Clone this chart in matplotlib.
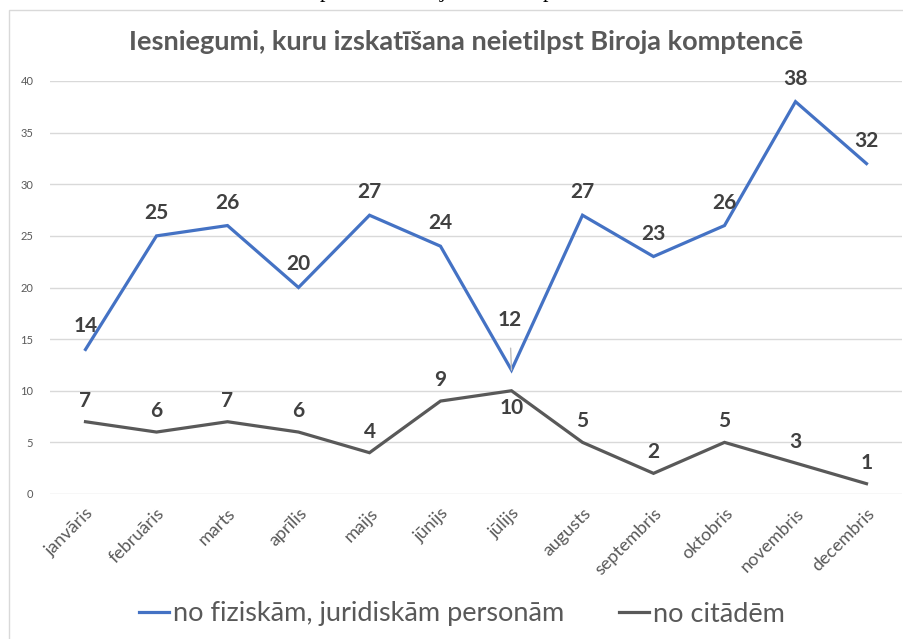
import matplotlib
matplotlib.use('Agg')
import matplotlib.pyplot as plt
from matplotlib.patches import Rectangle

months = ['janvāris', 'februāris', 'marts', 'aprīlis', 'maijs', 'jūnijs',
          'jūlijs', 'augusts', 'septembris', 'oktobris', 'novembris', 'decembris']
personas = [14, 25, 26, 20, 27, 24, 12, 27, 23, 26, 38, 32]
citadi = [7, 6, 7, 6, 4, 9, 10, 5, 2, 5, 3, 1]

BLUE = '#4472C4'
GRAY = '#595959'
LABEL = '#404040'

plt.rcParams['font.family'] = ['Lato', 'DejaVu Sans']

fig = plt.figure(figsize=(9.04, 6.39), dpi=100)
W, H = 904, 639

# chart frame (runs off the right/bottom edge like the screenshot)
fig.patches.append(Rectangle((9 / W, -0.1), 1.0, 1 - 10 / H + 0.1,
                             transform=fig.transFigure, fill=False,
                             edgecolor='#D9D9D9', lw=1))

# cut-off line of page text above the chart
for x, ch in [(325, 'p'), (443, 'j'), (548, 'p')]:
    fig.text(x / W, 1 + 3 / H, ch, family='Liberation Serif', fontsize=16,
             ha='center', va='baseline', color='black')

ax = fig.add_axes([50 / W, 1 - 494 / H, 852 / W, 413 / H])
x = list(range(len(months)))
ax.plot(x, personas, color=BLUE, lw=2.3, solid_joinstyle='miter', zorder=3)
ax.plot(x, citadi, color=GRAY, lw=2.3, solid_joinstyle='miter', zorder=3)

ax.set_xlim(-0.5, len(months) - 0.5)
ax.set_ylim(0, 40)
ax.set_yticks(range(0, 41, 5))
ax.grid(axis='y', color='#D9D9D9', lw=1)
ax.set_axisbelow(True)
for s in ax.spines.values():
    s.set_visible(False)
ax.tick_params(axis='y', length=0, labelsize=8, labelcolor=GRAY, pad=12)
ax.tick_params(axis='x', length=0, labelsize=13, labelcolor=GRAY, pad=8)
ax.set_xticks(x)
ax.set_xticklabels(months, rotation=45, ha='right', rotation_mode='anchor')

for i, v in enumerate(personas):
    if i == 6:
        ax.annotate(str(v), (i, v), xytext=(-2, 50), textcoords='offset pixels',
                    ha='center', va='center', fontsize=15, fontweight='bold',
                    color=LABEL,
                    arrowprops=dict(arrowstyle='-', color='#BFBFBF', lw=1,
                                    shrinkA=11, shrinkB=0))
    else:
        ax.annotate(str(v), (i, v), xytext=(0, 23), textcoords='offset pixels',
                    ha='center', va='center', fontsize=15, fontweight='bold',
                    color=LABEL)

for i, v in enumerate(citadi):
    dy = -17 if i == 6 else 21
    ax.annotate(str(v), (i, v), xytext=(0, dy), textcoords='offset pixels',
                ha='center', va='center', fontsize=15, fontweight='bold',
                color=LABEL)

fig.text(466 / W, 1 - 42 / H, 'Iesniegumi, kuru izskatīšana neietilpst Biroja komptencē',
         ha='center', va='center', fontsize=19.5, fontweight='bold', color=GRAY)

leg = fig.legend(['no fiziskām, juridiskām personām', 'no citādēm'],
                 loc='center', bbox_to_anchor=(462 / W, 1 - 614 / H), ncol=2,
                 frameon=False, fontsize=19.5, handlelength=1.1, handletextpad=0.15,
                 columnspacing=2.0, labelcolor=GRAY)

fig.savefig('out.png', dpi=100)
